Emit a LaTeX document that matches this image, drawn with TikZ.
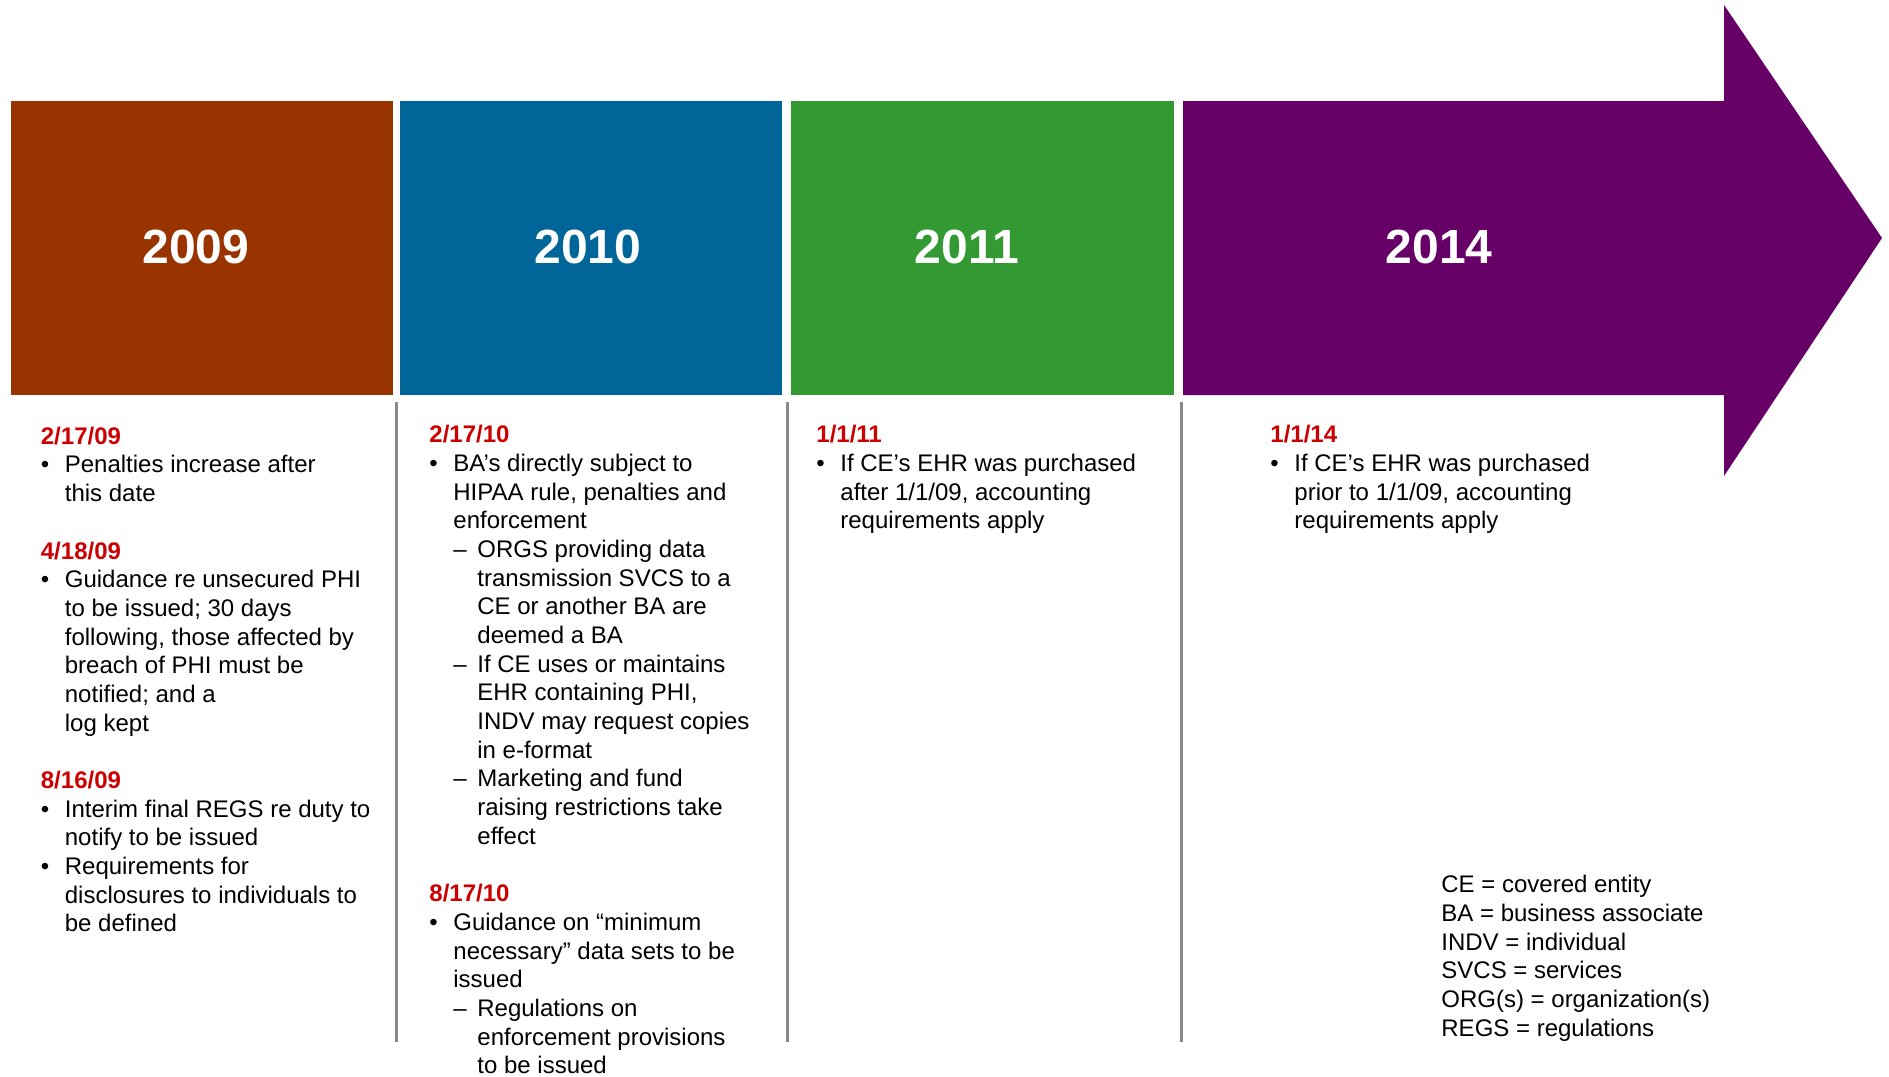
\documentclass[tikz,border=0pt]{standalone}
\usepackage{fontspec}
\setmainfont{Liberation Sans}
\definecolor{boxbrown}{HTML}{993300}
\definecolor{boxblue}{HTML}{006699}
\definecolor{boxgreen}{HTML}{339933}
\definecolor{boxpurple}{HTML}{660066}
\definecolor{datered}{HTML}{CC0000}
\definecolor{sepgray}{HTML}{888888}
\newlength{\bulw}\setlength{\bulw}{12pt}
\newcommand{\datel}[1]{\textcolor{datered}{\textbf{#1}}}
\newcommand{\bul}{\makebox[\bulw][l]{\textbullet}}
\newcommand{\bulind}{\hspace*{\bulw}}
\newcommand{\subdash}{\hspace*{\bulw}\makebox[\bulw][l]{\textendash}}
\newcommand{\subind}{\hspace*{2\bulw}}
\tikzset{
  yearlabel/.style={text=white, inner sep=0pt, font=\fontsize{24}{28}\selectfont\bfseries},
  coltext/.style={anchor=north west, inner sep=0pt, align=left, font=\fontsize{12}{14.34}\selectfont},
  sepline/.style={draw=sepgray, line width=1.5pt}
}
\begin{document}
\begin{tikzpicture}[x=0.5pt, y=-0.5pt]
  \useasboundingbox (0,0) rectangle (1889,1076);
  % Year blocks
  \fill[boxbrown] (11,101) rectangle (393,395);
  \fill[boxblue] (400,101) rectangle (782,395);
  \fill[boxgreen] (791,101) rectangle (1174,395);
  \fill[boxpurple] (1183,101) -- (1724,101) -- (1724,5) -- (1882,238)
    -- (1724,476) -- (1724,395) -- (1183,395) -- cycle;
  \node[yearlabel] (y09) at (196,247) {2009};
  \node[yearlabel] (y10) at (588,247) {2010};
  \node[yearlabel] (y11) at (967,247) {2011};
  \node[yearlabel] (y14) at (1439,247) {2014};
  % Column separators
  \foreach \x in {396.5,787,1181.5}
    \draw[sepline] (\x,402) -- (\x,1042);
  % Column texts
  \node[coltext] (col09) at (40.5,426.5) {\datel{2/17/09}\\
    \bul Penalties increase after\\
    \bulind this date\\[14.34pt]
    \datel{4/18/09}\\
    \bul Guidance re unsecured PHI\\
    \bulind to be issued; 30 days\\
    \bulind following, those affected by\\
    \bulind breach of PHI must be\\
    \bulind notified; and a\\
    \bulind log kept\\[14.34pt]
    \datel{8/16/09}\\
    \bul Interim final REGS re duty to\\
    \bulind notify to be issued\\
    \bul Requirements for\\
    \bulind disclosures to individuals to\\
    \bulind be defined};
  \node[coltext] (col10) at (429,425) {\datel{2/17/10}\\
    \bul BA’s directly subject to\\
    \bulind HIPAA rule, penalties and\\
    \bulind enforcement\\
    \subdash ORGS providing data\\
    \subind transmission SVCS to a\\
    \subind CE or another BA are\\
    \subind deemed a BA\\
    \subdash If CE uses or maintains\\
    \subind EHR containing PHI,\\
    \subind INDV may request copies\\
    \subind in e-format\\
    \subdash Marketing and fund\\
    \subind raising restrictions take\\
    \subind effect\\[14.34pt]
    \datel{8/17/10}\\
    \bul Guidance on “minimum\\
    \bulind necessary” data sets to be\\
    \bulind issued\\
    \subdash Regulations on\\
    \subind enforcement provisions\\
    \subind to be issued};
  \node[coltext] (col11) at (816,425) {\datel{1/1/11}\\
    \bul If CE’s EHR was purchased\\
    \bulind after 1/1/09, accounting\\
    \bulind requirements apply};
  \node[coltext] (col14) at (1270,425) {\datel{1/1/14}\\
    \bul If CE’s EHR was purchased\\
    \bulind prior to 1/1/09, accounting\\
    \bulind requirements apply};
  % Abbreviations
  \node[coltext] (legend) at (1441,875) {CE = covered entity\\
    BA = business associate\\
    INDV = individual\\
    SVCS = services\\
    ORG(s) = organization(s)\\
    REGS = regulations};
\end{tikzpicture}
\end{document}
